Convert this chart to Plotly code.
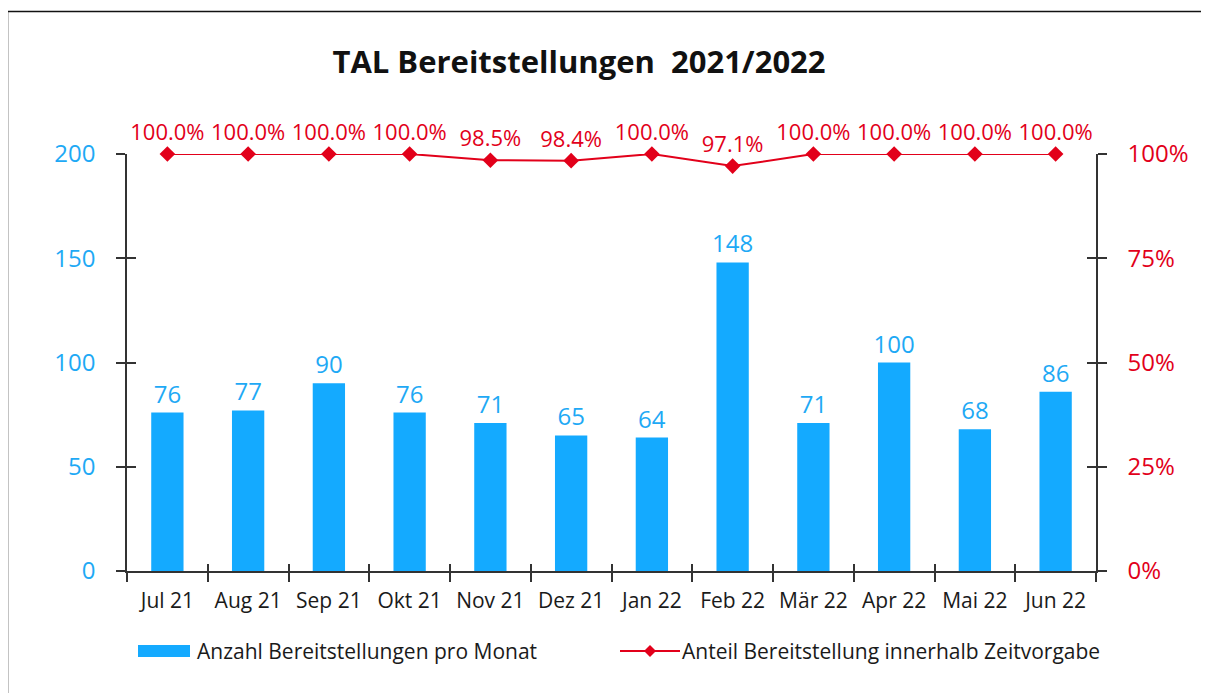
import plotly.graph_objects as go

months = ["Jul 21", "Aug 21", "Sep 21", "Okt 21", "Nov 21", "Dez 21", "Jan 22",
          "Feb 22", "Mär 22", "Apr 22", "Mai 22", "Jun 22"]
counts = [76, 77, 90, 76, 71, 65, 64, 148, 71, 100, 68, 86]
share = [100.0, 100.0, 100.0, 100.0, 98.5, 98.4, 100.0, 97.1, 100.0, 100.0, 100.0, 100.0]

left_ticks = [0, 50, 100, 150, 200]
right_ticks = [0, 25, 50, 75, 100]

BLUE = "#14AAFF"
BLUE_TXT = "#1EA9F5"
RED = "#E2001A"
AX = "#333333"
TXT = "#1a1a1a"
FONT = "Open Sans"

W, H = 1209, 693
OFF = 8  # page offset of the plot div
# desired screen positions of plot area
SX0, SX1, SY0, SY1 = 127, 1096, 154, 571
L = SX0 - OFF
T = SY0 - OFF
R = W - (SX1 - OFF)
B = H - (SY1 - OFF)
pw, ph = W - L - R, H - T - B

def px_x(s):
    return (s - SX0) / pw

def px_y(s):
    return (SY1 - s) / ph

fig = go.Figure()
fig.add_trace(go.Bar(
    x=months, y=counts, name="Anzahl Bereitstellungen pro Monat",
    marker=dict(color=BLUE, line=dict(width=0)), width=0.4,
    text=[str(v) for v in counts], textposition="outside", constraintext="none",
    textfont=dict(color=BLUE_TXT, size=24, family=FONT), cliponaxis=False,
    showlegend=False,
))
fig.add_trace(go.Scatter(
    x=months, y=share, yaxis="y2", name="Anteil Bereitstellung innerhalb Zeitvorgabe",
    mode="lines+markers+text", line=dict(color=RED, width=2),
    marker=dict(symbol="diamond", size=12, color=RED),
    text=[f"{v:.1f}%" for v in share], textposition="top center",
    textfont=dict(color=RED, size=22, family=FONT), cliponaxis=False,
    showlegend=False,
))
# invisible helper traces to activate tick-crossing overlay axes
fig.add_trace(go.Scatter(x=months, y=counts, xaxis="x2", yaxis="y3", mode="none",
                         showlegend=False, hoverinfo="skip"))
fig.add_trace(go.Scatter(x=months, y=share, xaxis="x2", yaxis="y4", mode="none",
                         showlegend=False, hoverinfo="skip"))

fig.update_layout(
    width=W, height=H,
    margin=dict(l=L, r=R, t=T, b=B, pad=0),
    paper_bgcolor="white", plot_bgcolor="white",
    font=dict(family=FONT, color=TXT, size=21),
    title=dict(text="<b>TAL Bereitstellungen  2021/2022</b>", x=(579 - OFF) / W,
               xanchor="center", y=1 - (62 - OFF) / H, yanchor="middle",
               font=dict(size=31, color="#111111", family=FONT)),
    showlegend=False,
    xaxis=dict(type="category", showline=True, linecolor=AX, linewidth=1.5,
               ticks="outside", ticklen=9, tickcolor=AX, tickwidth=1.5,
               tickson="boundaries", showgrid=False, zeroline=False,
               tickfont=dict(size=21, color=TXT), range=[-0.5, 11.5],
               tickangle=0, ticklabelstandoff=10),
    xaxis2=dict(type="category", overlaying="x", matches="x", showline=False,
                ticks="inside", ticklen=7, tickcolor=AX, tickwidth=1.5,
                tickson="boundaries", showticklabels=False, showgrid=False, side="bottom"),
    yaxis=dict(range=[0, 200], tickvals=left_ticks, showline=True, linecolor=AX, linewidth=1.5,
               ticks="outside", ticklen=9, tickcolor=AX, tickwidth=1.5, showgrid=False,
               zeroline=False, tickfont=dict(size=24, color=BLUE_TXT), ticklabelstandoff=16),
    yaxis2=dict(range=[0, 100], tickvals=right_ticks, ticktext=[f"{v}%" for v in right_ticks],
                overlaying="y", side="right", showline=True, linecolor=AX, linewidth=1.5,
                ticks="outside", ticklen=9, tickcolor=AX, tickwidth=1.5, showgrid=False,
                zeroline=False, tickfont=dict(size=24, color=RED), ticklabelstandoff=16),
    yaxis3=dict(range=[0, 200], tickvals=left_ticks, overlaying="y", side="left",
                ticks="inside", ticklen=9, tickcolor=AX, tickwidth=1.5, showticklabels=False,
                showgrid=False, zeroline=False, showline=False),
    yaxis4=dict(range=[0, 100], tickvals=right_ticks, overlaying="y", side="right",
                ticks="inside", ticklen=9, tickcolor=AX, tickwidth=1.5, showticklabels=False,
                showgrid=False, zeroline=False, showline=False),
)

# manual legend
LY = 651
fig.add_shape(type="rect", xref="paper", yref="paper",
              x0=px_x(138), x1=px_x(190), y0=px_y(LY - 6), y1=px_y(LY + 6),
              fillcolor=BLUE, line=dict(width=0))
fig.add_annotation(xref="paper", yref="paper", x=px_x(195), y=px_y(LY), xanchor="left",
                   yanchor="middle", showarrow=False, text="Anzahl Bereitstellungen pro Monat",
                   font=dict(size=21, color=TXT, family=FONT))
fig.add_shape(type="line", xref="paper", yref="paper",
              x0=px_x(620), x1=px_x(680), y0=px_y(LY), y1=px_y(LY),
              line=dict(color=RED, width=2))
d = 6
fig.add_shape(type="path", xref="paper", yref="paper",
              path=(f"M {px_x(650 - d)},{px_y(LY)} L {px_x(650)},{px_y(LY - d)} "
                    f"L {px_x(650 + d)},{px_y(LY)} L {px_x(650)},{px_y(LY + d)} Z"),
              fillcolor=RED, line=dict(width=0))
fig.add_annotation(xref="paper", yref="paper", x=px_x(680), y=px_y(LY), xanchor="left",
                   yanchor="middle", showarrow=False,
                   text="Anteil Bereitstellung innerhalb Zeitvorgabe",
                   font=dict(size=21, color=TXT, family=FONT))

# outer frame
fig.add_shape(type="rect", xref="paper", yref="paper",
              x0=px_x(7.5), x1=px_x(1230), y0=px_y(11.5), y1=px_y(720),
              line=dict(color="#111111", width=1.5), fillcolor="rgba(0,0,0,0)", layer="below")

fig.write_html("out.html")
